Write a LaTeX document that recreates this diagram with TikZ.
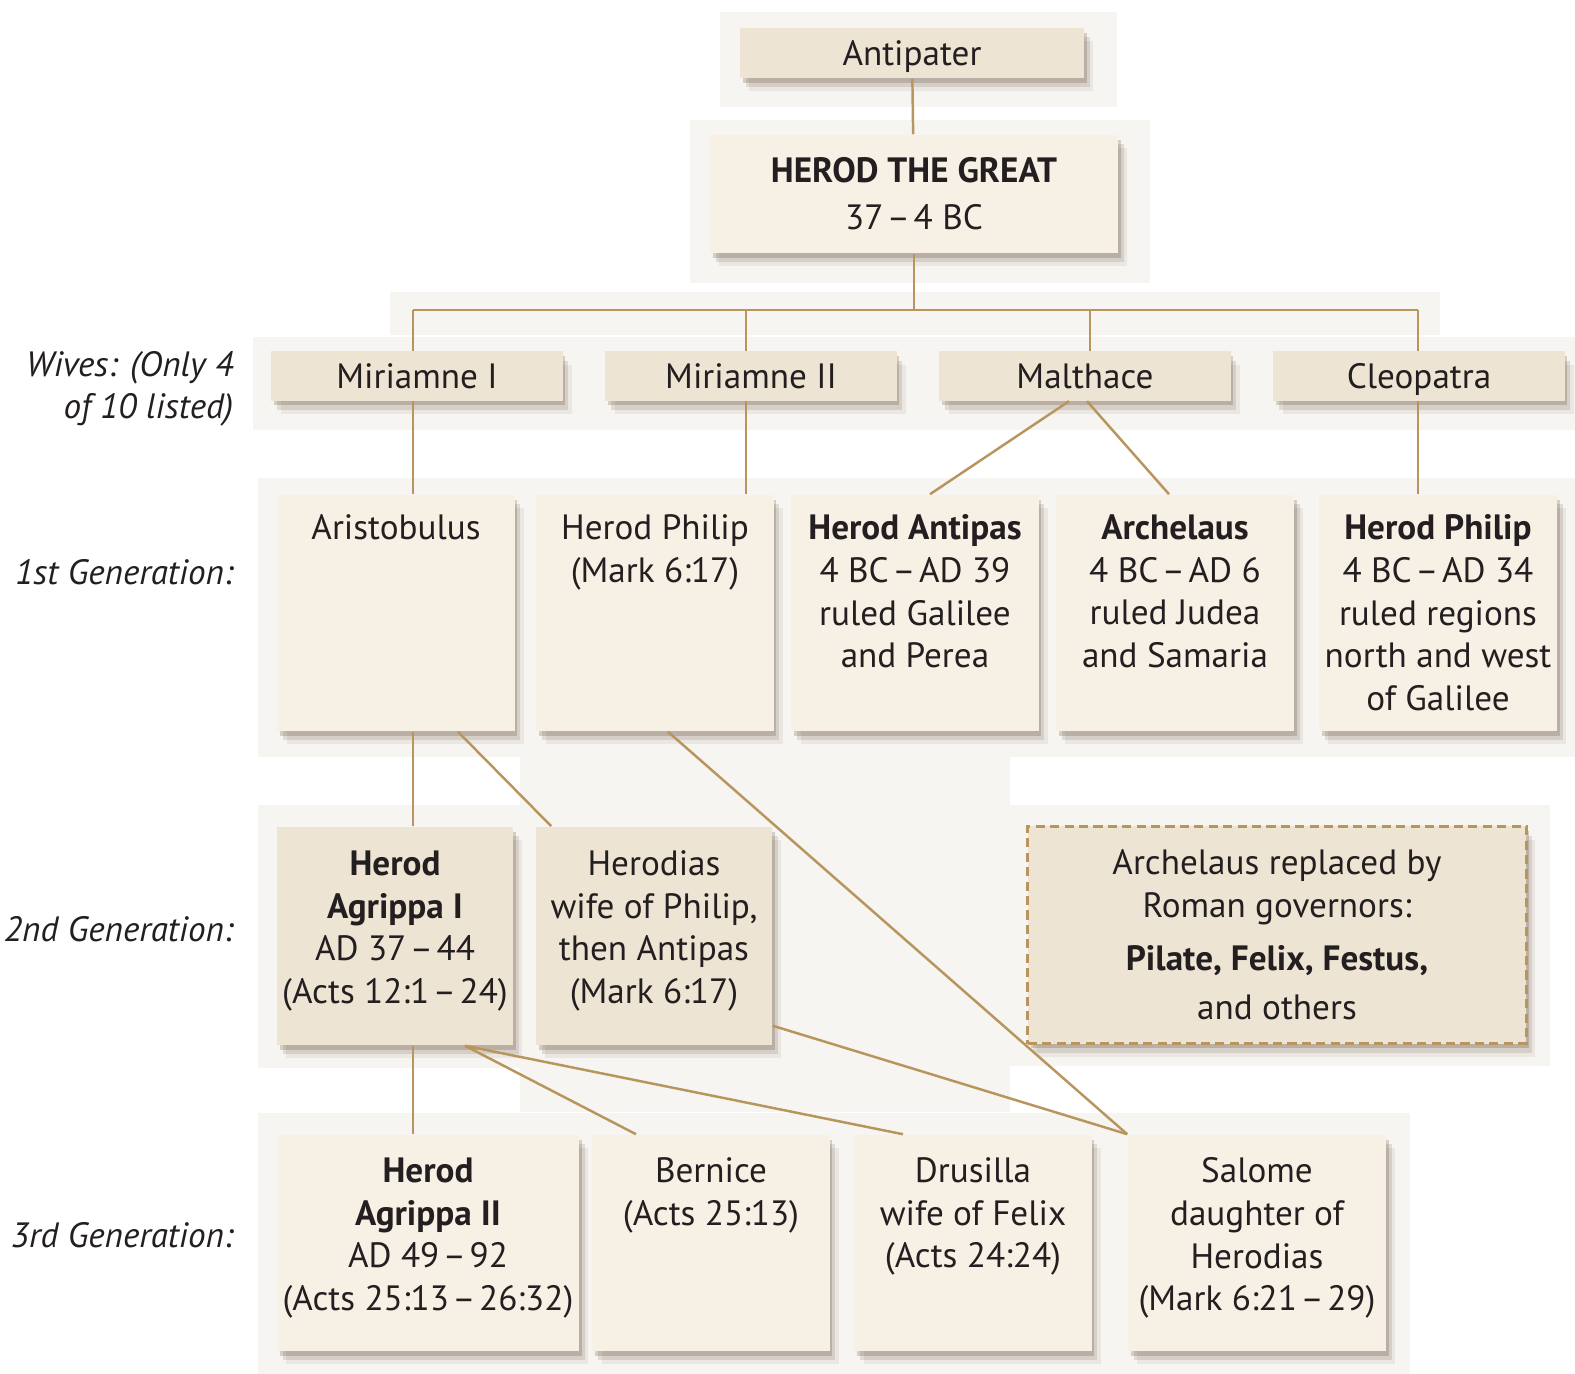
\documentclass[tikz,border=0pt]{standalone}
\usepackage{fontspec}
\setmainfont{PT Sans}
\usepackage{tikz}
\usetikzlibrary{shadows,positioning,calc}

\definecolor{cream}{HTML}{F6F0E5}
\definecolor{sand}{HTML}{EEE4D3}
\definecolor{rope}{HTML}{B9955E}
\definecolor{ink}{HTML}{231F20}
\definecolor{haze}{HTML}{F6F5F2}
\newcommand\yr{\kern.1em--\kern.1em}

\begin{document}
\begin{tikzpicture}[x=0.01cm, y=-0.01cm, text=ink,
    font=\fontsize{10}{12.1}\selectfont,
    box/.style={inner sep=0pt, fill=cream,
        drop shadow={shadow xshift=0.8pt, shadow yshift=-1.4pt, opacity=0.20, fill=black!60!brown},
        drop shadow={shadow xshift=1.6pt, shadow yshift=-2.6pt, opacity=0.13, fill=black!60!brown},
        drop shadow={shadow xshift=2.6pt, shadow yshift=-3.8pt, opacity=0.07, fill=black!60!brown}},
    darkbox/.style={box, fill=sand},
    wifebox/.style={darkbox, minimum width=2.91cm, minimum height=0.49cm, text height=0.86em, text depth=0.14em},
    txt/.style={anchor=north, inner sep=0pt, align=center},
    link/.style={draw=rope, line width=0.7pt},
    genlabel/.style={anchor=east, inner sep=0pt, align=right, font=\fontsize{10}{12.1}\selectfont\itshape}]
    \useasboundingbox (0,0) rectangle (1575,1374);

    % faint panels behind the rows
    \fill[haze] (720,12) rectangle (1117,107);
    \fill[haze] (690,120) rectangle (1150,283);
    \fill[haze] (390,292) rectangle (1440,335);
    \fill[haze] (253,337) rectangle (1575,430);
    \fill[haze] (258,478) rectangle (1575,757);
    \fill[haze] (520,757) rectangle (1010,1112);
    \fill[haze] (258,805) rectangle (1010,1068);
    \fill[haze] (1008,805) rectangle (1550,1066);
    \fill[haze] (258,1113) rectangle (1410,1374);

    % Top: Antipater and Herod
    \node[wifebox, minimum width=3.44cm, minimum height=0.5cm] (antipater) at (912,53) {Antipater};
    \node[box, minimum width=4.08cm, minimum height=1.18cm, align=center] (herod) at (914,194)
        {\textbf{HEROD THE GREAT}\\[1.2pt]37\yr 4 BC};

    % Wives
    \node[genlabel] (wives) at (234,389) {Wives: (Only 4\\of 10 listed)};
    \foreach \w/\x/\name in {1/417/Miriamne I, 2/751/Miriamne II, 3/1085/Malthace, 4/1419/Cleopatra}
        \node[wifebox] (wife\w) at (\x,376) {\name};

    % Generation labels
    \foreach \g/\y/\ord in {1/572/1st, 2/929/2nd, 3/1235/3rd}
        \node[genlabel] (gen\g) at (234,\y) {\ord\ Generation:};

    % 1st generation
    \node[box, minimum width=2.37cm, minimum height=2.36cm] (aristo) at (396,613) {};
    \node[box, minimum width=2.37cm, minimum height=2.36cm] (philip) at (655,613) {};
    \node[box, minimum width=2.47cm, minimum height=2.36cm] (antipas) at (915,613) {};
    \node[box, minimum width=2.38cm, minimum height=2.36cm] (archelaus) at (1175,613) {};
    \node[box, minimum width=2.38cm, minimum height=2.36cm] (philiptwo) at (1438,613) {};
    \node[txt, below=0.2cm of aristo.north] {Aristobulus};
    \node[txt, below=0.2cm of philip.north] {Herod Philip\\(Mark 6:17)};
    \node[txt, below=0.2cm of antipas.north] {\textbf{Herod Antipas}\\4 BC\yr AD 39\\ruled Galilee\\and Perea};
    \node[txt, below=0.2cm of archelaus.north] {\textbf{Archelaus}\\4 BC\yr AD 6\\ruled Judea\\and Samaria};
    \node[txt, below=0.2cm of philiptwo.north] {\textbf{Herod Philip}\\4 BC\yr AD 34\\ruled regions\\north and west\\of Galilee};

    % 2nd generation
    \node[darkbox, minimum width=2.36cm, minimum height=2.18cm] (agrippa) at (395,936) {};
    \node[darkbox, minimum width=2.36cm, minimum height=2.18cm] (herodias) at (654,936) {};
    \node[txt, below=0.24cm of agrippa.north] {\textbf{Herod}\\\textbf{Agrippa I}\\AD 37\yr 44\\(Acts 12:1\yr 24)};
    \node[txt, below=0.24cm of herodias.north] {Herodias\\wife of Philip,\\then Antipas\\(Mark 6:17)};
    \node[darkbox, draw=rope, line width=0.85pt, dash pattern=on 2.6pt off 1.5pt,
        minimum width=4.98cm, minimum height=2.17cm, align=center] (governors) at (1277,935)
        {Archelaus replaced by\\Roman governors:\\[3pt]\textbf{Pilate, Felix, Festus,}\\[2pt]and others};

    % 3rd generation
    \node[box, minimum width=3.02cm, minimum height=2.16cm] (agrippatwo) at (428,1243) {};
    \node[box, minimum width=2.37cm, minimum height=2.16cm] (bernice) at (711,1243) {};
    \node[box, minimum width=2.37cm, minimum height=2.16cm] (drusilla) at (973,1243) {};
    \node[box, minimum width=2.58cm, minimum height=2.16cm] (salome) at (1257,1243) {};
    \node[txt, below=0.23cm of agrippatwo.north] {\textbf{Herod}\\\textbf{Agrippa II}\\AD 49\yr 92\\(Acts 25:13\yr 26:32)};
    \node[txt, below=0.23cm of bernice.north] {Bernice\\(Acts 25:13)};
    \node[txt, below=0.23cm of drusilla.north] {Drusilla\\wife of Felix\\(Acts 24:24)};
    \node[txt, below=0.23cm of salome.north] {Salome\\daughter of\\Herodias\\(Mark 6:21\yr 29)};

    % Connectors
    \draw[link] (antipater) -- (herod);
    \foreach \w/\x in {1/413, 2/746, 3/1090, 4/1418} {
        \coordinate (bar\w) at (\x,310);
        \draw[link] (bar\w) -- (bar\w |- wife\w.north);
    }
    \draw[link] (herod.south) -- (herod.south |- bar1);
    \draw[link] (bar1) -- (bar4);
    \draw[link] (bar1 |- wife1.south) -- (bar1 |- aristo.north);
    \draw[link] (bar2 |- wife2.south) -- (bar2 |- philip.north);
    \draw[link] (bar4 |- wife4.south) -- (bar4 |- philiptwo.north);
    \draw[link] ($(wife3.south)+(-16,0)$) -- ($(antipas.north)+(15,0)$);
    \draw[link] ($(wife3.south)+(2,0)$) -- ($(archelaus.north)+(-6,0)$);
    \draw[link] (bar1 |- aristo.south) -- (bar1 |- agrippa.north);
    \draw[link] ($(aristo.south)+(62,0)$) -- ($(herodias.north west)+(16,0)$);
    \draw[link] ($(philip.south)+(13,0)$) -- (salome.north west);
    \draw[link] ($(herodias.south east)+(0,-20)$) -- (salome.north west);
    \draw[link] (bar1 |- agrippa.south) -- (bar1 |- agrippatwo.north);
    \draw[link] ($(agrippa.south)+(70,0)$) -- ($(bernice.north)+(-75,0)$);
    \draw[link] ($(agrippa.south)+(70,0)$) -- ($(drusilla.north)+(-70,0)$);
    \draw[link, dash pattern=on 2.6pt off 1.5pt, line width=0.85pt] ($(archelaus.south)+(57,0)$) -- ($(archelaus.south)+(57,0)$ |- governors.north);
\end{tikzpicture}
\end{document}
